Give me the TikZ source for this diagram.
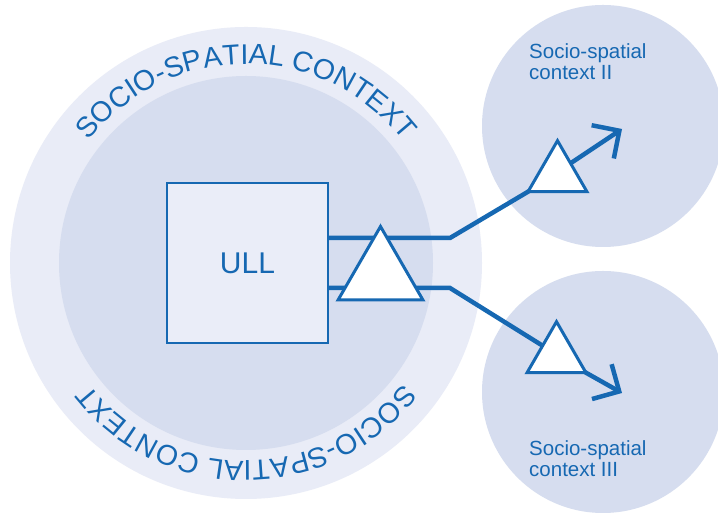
\documentclass[tikz,border=0pt]{standalone}
\usepackage{fontspec}
\setmainfont{Liberation Sans}
\usetikzlibrary{shapes.geometric,arrows.meta,decorations.text}
\definecolor{ublue}{RGB}{22,104,178}
\definecolor{outerfill}{RGB}{233,236,247}
\definecolor{innerfill}{RGB}{214,221,239}
\definecolor{boxfill}{RGB}{234,237,248}
\begin{document}
\begin{tikzpicture}[x=1pt,y=1pt,
  disc/.style={circle, inner sep=0pt, outer sep=0pt, draw=none},
  tri/.style={regular polygon, regular polygon sides=3, draw=ublue, line width=3pt, fill=white, inner sep=0pt, outer sep=0pt},
  flow/.style={draw=ublue, line width=4.5pt},
  arr/.style={flow, -{Straight Barb[length=20pt,width=40pt]}},
  ctxlabel/.style={text=ublue, font=\fontsize{20.5}{21}\selectfont, align=left, anchor=north west, inner sep=0pt},
  ringfont/.style={decoration={text along path, text align=center,
   text={|\color{ublue}\fontsize{28.5}{28.5}\selectfont|SOCIO-SPATIAL CONTEXT}}}
]
\clip (0,0) rectangle (718,518);
\fill[white] (0,0) rectangle (718,518);
% discs
\node[disc, fill=outerfill, minimum size=472pt] (outer) at (246,255) {};
\node[disc, fill=innerfill, minimum size=374pt] (inner) at (246,255) {};
\node[disc, fill=innerfill, minimum size=242pt] (ctxII) at (603,392) {};
\node[disc, fill=innerfill, minimum size=242pt] (ctxIII) at (603,126) {};
% ring text
\path[decorate, ringfont]
   (outer.center) ++(180:199) arc[start angle=180, end angle=0, radius=199];
\path[decorate, ringfont]
   (outer.center) ++(0:198) arc[start angle=0, end angle=-180, radius=198];
% ULL box
\node[draw=ublue, line width=2.8pt, fill=boxfill, minimum width=161pt, minimum height=160pt,
      inner sep=0pt, outer sep=0pt, text=ublue, font=\fontsize{30}{30}\selectfont] (ull) at (247.5,255) {ULL};
% positions
\coordinate (k1) at (450,280);
\coordinate (k2) at (450,230);
\coordinate (tip1) at (622,389);
\coordinate (tip2) at (622,125);
\path (557.5,343.3) node[tri, minimum size=68pt, draw=none, fill=none] (t1) {};
\path (556.5,162.3) node[tri, minimum size=68pt, draw=none, fill=none] (t2) {};
% connectors
\draw[arr] (ull.east |- k1) -- (k1) -- (t1.corner 2) -- (tip1);
\draw[arr] (ull.east |- k2) -- (k2) -- (t2.corner 3) -- (tip2);
% triangles
\node[tri, minimum size=98pt] (t0) at (380.5,242.5) {};
\node[tri, minimum size=68pt] at (t1.center) {};
\node[tri, minimum size=68pt] at (t2.center) {};
% labels
\node[ctxlabel] (lII) at (529,475) {Socio-spatial\\context II};
\node[ctxlabel] (lIII) at (529,78) {Socio-spatial\\context III};
\end{tikzpicture}
\end{document}
